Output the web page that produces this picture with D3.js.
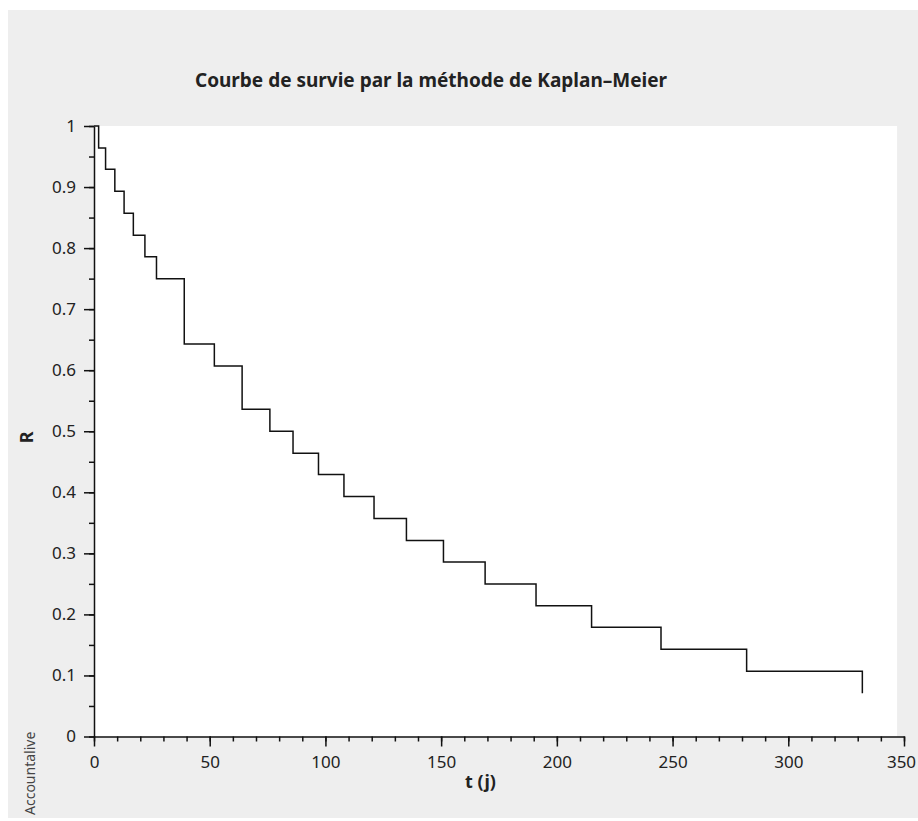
<!DOCTYPE html>
<html>
<head>
<meta charset="utf-8">
<script src="https://cdn.jsdelivr.net/npm/d3@7"></script>
<style>
  body { margin: 0; background: #fff; }
  svg text { font-family: "Noto Sans", "Open Sans", sans-serif; fill: #222; }
</style>
</head>
<body>
<div id="chart"></div>
<script>
// Kaplan-Meier survival estimate
const times = [0, 2, 5, 9, 13, 17, 22, 27, 39, 52, 64, 76, 86, 97, 108, 121, 135, 151, 169, 191, 215, 245, 282, 332];
const survival = [1, 0.964, 0.929, 0.893, 0.857, 0.821, 0.786, 0.75, 0.643, 0.607, 0.536, 0.5, 0.464, 0.429, 0.393, 0.357, 0.321, 0.286, 0.25, 0.214, 0.179, 0.143, 0.107, 0.071];
const xTicks = [0, 50, 100, 150, 200, 250, 300, 350];
const yTicks = [0, 0.1, 0.2, 0.3, 0.4, 0.5, 0.6, 0.7, 0.8, 0.9, 1];

const title = "Courbe de survie par la méthode de Kaplan–Meier";
const xLabel = "t (j)";
const yLabel = "R";
const credit = "Accountalive";

const W = 918, H = 821;
const margin = { top: 126, right: 14, bottom: 84.5, left: 94 };
const width = W - margin.left - margin.right;
const height = H - margin.top - margin.bottom;

const svg = d3.select("#chart").append("svg")
    .attr("width", W)
    .attr("height", H);

// grey panel
svg.append("rect")
    .attr("x", 8).attr("y", 10)
    .attr("width", W - 8).attr("height", 808)
    .attr("fill", "#eeeeee");

svg.append("text")
    .attr("x", 431).attr("y", 87)
    .attr("text-anchor", "middle")
    .attr("font-size", 19)
    .attr("font-weight", "bold")
    .text(title);

const g = svg.append("g").attr("transform", `translate(${margin.left},${margin.top})`);

const x = d3.scaleLinear().domain([0, 350]).range([0, width]);
const y = d3.scaleLinear().domain([0, 1]).range([height, 0]);

// white plot area (stops a little before the last tick)
g.append("rect")
    .attr("x", 0).attr("y", 0)
    .attr("width", x(347)).attr("height", height)
    .attr("fill", "#fff");

// minor ticks
g.append("g")
    .attr("transform", `translate(0,${height})`)
    .call(d3.axisBottom(x).tickValues(d3.range(0, 351, 10)).tickSize(5).tickFormat(""))
    .call((a) => a.select(".domain").remove());
g.append("g")
    .call(d3.axisLeft(y).tickValues(d3.range(0, 1.01, 0.05)).tickSize(5).tickFormat(""))
    .call((a) => a.select(".domain").remove());

// major axes
const xAxis = g.append("g")
    .attr("transform", `translate(0,${height})`)
    .call(d3.axisBottom(x).tickValues(xTicks).tickSize(10).tickPadding(6).tickSizeOuter(0));
const yAxis = g.append("g")
    .call(d3.axisLeft(y).tickValues(yTicks).tickSize(10).tickPadding(8).tickSizeOuter(0)
        .tickFormat((d) => d3.format("~g")(d)));

g.selectAll(".tick line, .domain").attr("stroke", "#111").attr("stroke-width", 1.5);
g.selectAll(".tick text").attr("font-size", 17).attr("fill", "#222")
    .attr("font-family", '"Noto Sans", sans-serif');
xAxis.selectAll(".tick text").attr("dy", "0.9em");
// keep the last label inside the page, as in the reference
xAxis.selectAll(".tick text").filter((d) => d === 350).attr("dx", -3);

// survival step curve
const line = d3.line()
    .curve(d3.curveStepAfter)
    .x((d) => x(d[0]))
    .y((d) => y(d[1]));
const pts = times.map((t, i) => [t, survival[i]]);
g.append("path")
    .datum(pts)
    .attr("fill", "none")
    .attr("stroke", "#111")
    .attr("stroke-width", 1.5)
    .attr("d", line);

// axis labels
svg.append("text")
    .attr("x", margin.left + x(167)).attr("y", 788)
    .attr("text-anchor", "middle")
    .attr("font-size", 18)
    .attr("font-weight", "bold")
    .text(xLabel);

svg.append("text")
    .attr("transform", `translate(33,${margin.top + y(0.49)}) rotate(-90)`)
    .attr("text-anchor", "middle")
    .attr("font-size", 18)
    .attr("font-weight", "bold")
    .text(yLabel);

svg.append("text")
    .attr("transform", "translate(35,815) rotate(-90)")
    .attr("font-size", 14)
    .style("fill", "#444")
    .text(credit);
</script>
</body>
</html>
